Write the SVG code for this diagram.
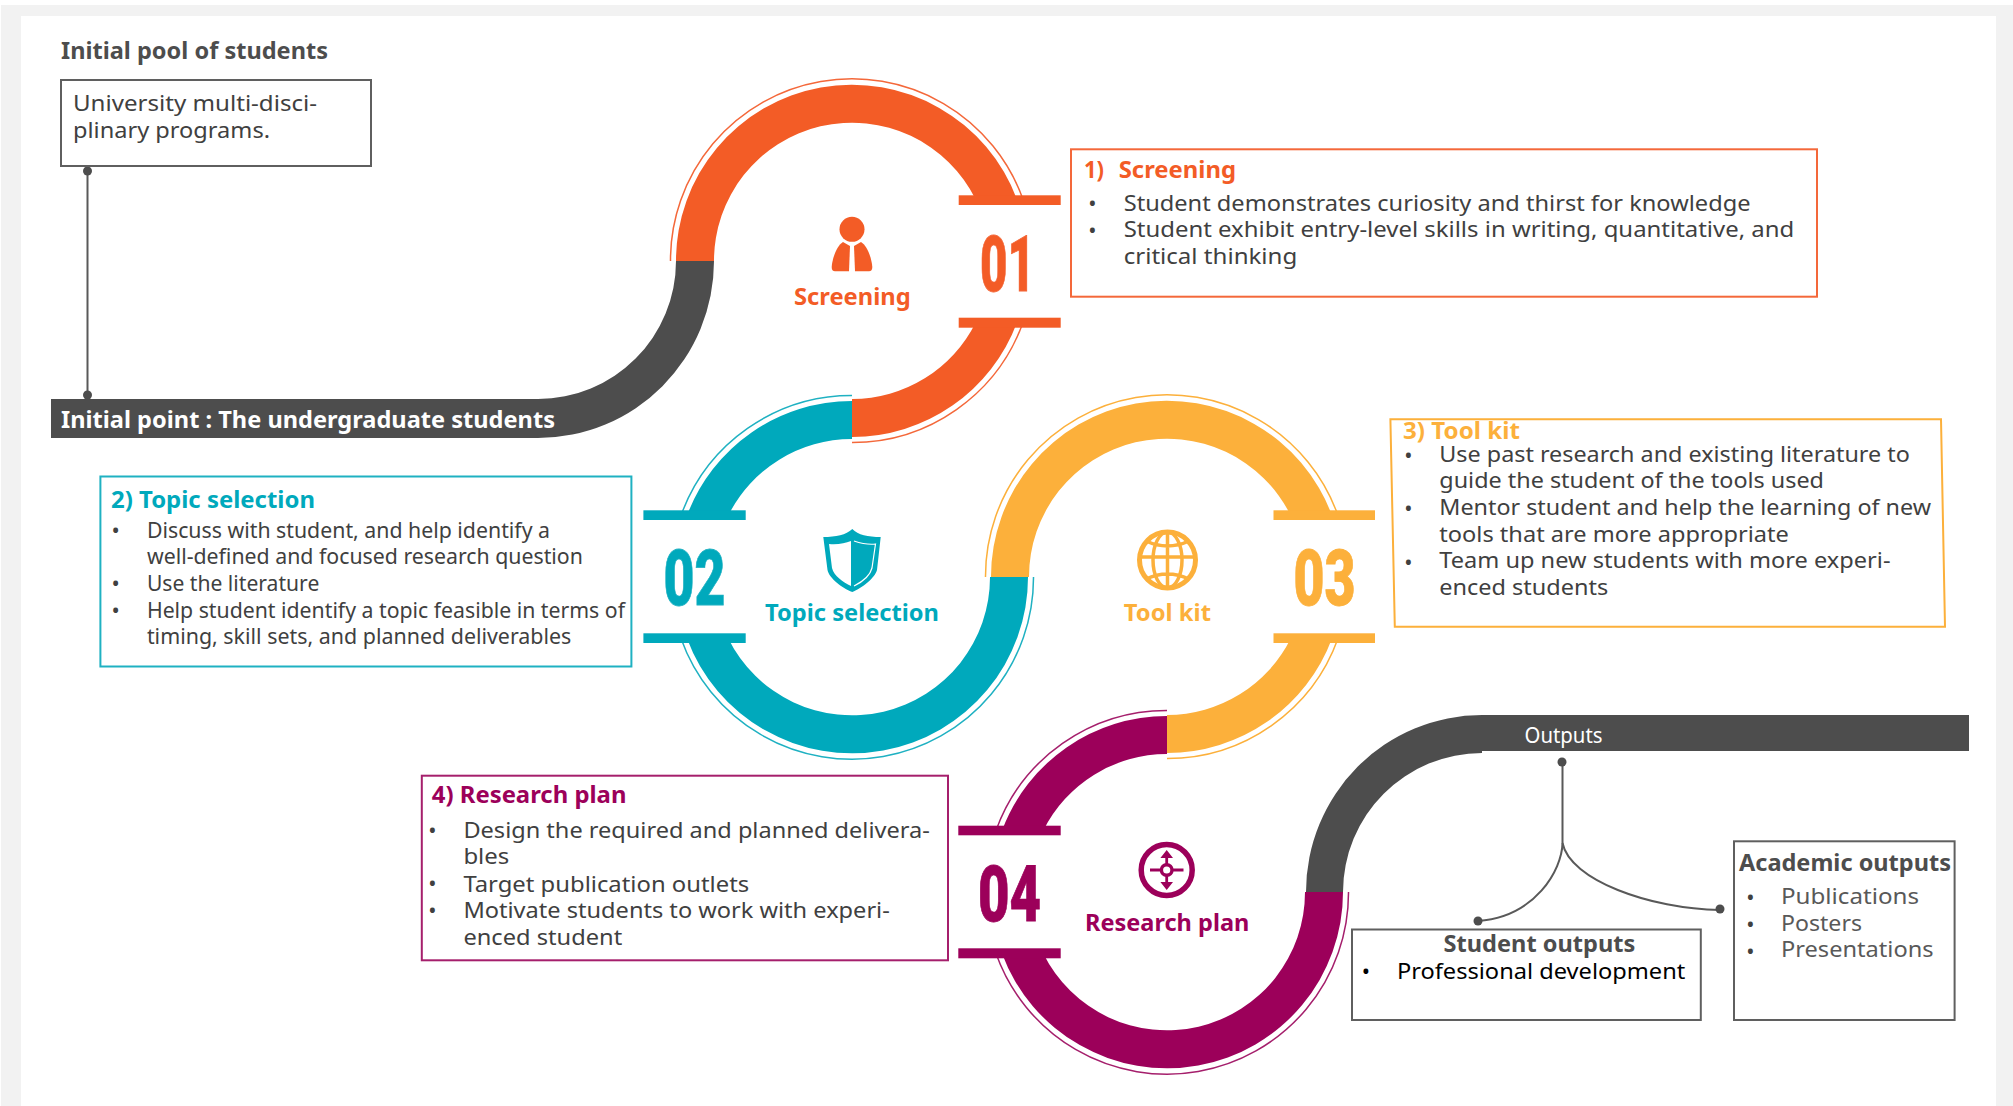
<svg xmlns="http://www.w3.org/2000/svg" width="2013" height="1106" viewBox="0 0 2013 1106">
<style>
text{font-family:"Noto Sans","Liberation Sans",sans-serif}
.b{font-size:22px;fill:#404040}
.h{font-size:23px;font-weight:700}
.k{font-size:24px;font-weight:700;fill:#4d4d4d}
.n{font-family:Roboto,"Liberation Sans",sans-serif;font-size:77px;font-weight:900;stroke-width:.8}
.l{font-size:24px;font-weight:700}
.d{font-size:22px;fill:#404040;text-anchor:middle}
.box{fill:#fff;stroke-width:2}
.gbox{fill:#fff;stroke:#5f5f5f;stroke-width:2}
.t{fill:none;stroke-width:1.5}
.o{fill:#f35c26}.os{stroke:#f4683a}
.c{fill:#00a9bc}.cs{stroke:#1fb1c2}
.y{fill:#fcb03b}.ys{stroke:#fcb03b}
.p{fill:#9c005a}.ps{stroke:#a51f6c}
.gl{fill:none;stroke:#595959;stroke-width:2}
.dot{fill:#4d4d4d}
</style>
<rect width="2013" height="1106" fill="#fff"/>
<path fill="#f2f2f2" d="M1 5H2013V1106H1ZM21 16V1106H1996V16Z" fill-rule="evenodd"/>

<g id="connectors">
<path fill="#4d4d4d" d="M676 261A138 138 0 0 1 538 399H51V438H538A176 177 0 0 0 714 261Z"/>
<path fill="#4d4d4d" d="M1343 892A139 139 0 0 1 1482 753V751H1969V715H1482A176 177 0 0 0 1306 892Z"/>
<path class="gl" d="M87.5 171V395"/>
<circle class="dot" cx="87.5" cy="171" r="4.5"/>
<circle class="dot" cx="87.5" cy="395" r="4.5"/>
<path class="gl" d="M1562.5 762V843C1562 870 1535 917 1478 921"/>
<path class="gl" d="M1562.5 843C1570 880 1650 909 1720 910"/>
<circle class="dot" cx="1562" cy="762" r="4.5"/>
<circle class="dot" cx="1478" cy="921" r="4.5"/>
<circle class="dot" cx="1720" cy="909" r="4.5"/>
</g>

<g id="node-initial-pool">
<text class="k" x="61" y="59" textLength="267" lengthAdjust="spacingAndGlyphs">Initial pool of students</text>
<rect class="gbox" x="61" y="80" width="310" height="86"/>
<text class="b" x="73" y="110.7" textLength="244" lengthAdjust="spacingAndGlyphs">University multi-disci-</text>
<text class="b" x="73" y="137.7" textLength="197" lengthAdjust="spacingAndGlyphs">plinary programs.</text>
</g>

<g id="node-initial-point">
<text class="k" style="fill:#fff" x="61" y="427.7" textLength="494" lengthAdjust="spacingAndGlyphs">Initial point : The undergraduate students</text>
</g>

<g id="node-screening">
<path class="o" d="M676 261A176 176 0 0 1 1017 199.5H975.7A138 138 0 0 0 714 261Z"/>
<path class="o" d="M1017 322.5A176 176 0 0 1 852 437V399A138 138 0 0 0 975.7 322.5Z"/>
<path class="t os" d="M670.5 261A181.5 181.5 0 0 1 1023 199.5"/>
<path class="t os" d="M1023 322.5A181.5 181.5 0 0 1 852 442.5"/>
<rect class="o" x="958.7" y="195.3" width="102" height="9.7"/>
<rect class="o" x="958.7" y="317.7" width="102" height="10"/>
<circle class="o" cx="852" cy="229.3" r="12.5"/>
<path class="o" d="M843 242C835 247 832 262 831.7 267Q831.7 271.3 835 271.3H849L850 246Z"/>
<path class="o" d="M861 242C869 247 872 262 872.3 267Q872.3 271.3 869 271.3H855L854 246Z"/>
<text class="l o" x="794" y="305" textLength="116.7" lengthAdjust="spacingAndGlyphs">Screening</text>
<text class="n o os" x="980" y="290.7" textLength="55" lengthAdjust="spacingAndGlyphs">01</text>
<rect class="box os" x="1071" y="149.3" width="746" height="147.4"/>
<text class="h o" x="1084" y="177.7" textLength="20" lengthAdjust="spacingAndGlyphs">1)</text>
<text class="h o" x="1118.7" y="177.7" textLength="117.3" lengthAdjust="spacingAndGlyphs">Screening</text>
<text class="d" x="1092.5" y="211">•</text>
<text class="d" x="1092.5" y="238">•</text>
<text class="b" x="1123.7" y="210.7" textLength="626.8" lengthAdjust="spacingAndGlyphs">Student demonstrates curiosity and thirst for knowledge</text>
<text class="b" x="1123.7" y="237.3" textLength="670.5" lengthAdjust="spacingAndGlyphs">Student exhibit entry-level skills in writing, quantitative, and</text>
<text class="b" x="1123.7" y="264" textLength="173.6" lengthAdjust="spacingAndGlyphs">critical thinking</text>
</g>

<g id="node-topic-selection">
<path class="c" d="M852 401A176 176 0 0 0 687 515.5H728.3A138 138 0 0 1 852 439Z"/>
<path class="c" d="M687 638.5A176 176 0 0 0 1028 577H990A138 138 0 0 1 728.3 638.5Z"/>
<path class="t cs" d="M852 395.5A181.5 181.5 0 0 0 681 515.5"/>
<path class="t cs" d="M681 638.5A181.5 181.5 0 0 0 1033.5 577"/>
<rect class="c" x="643.4" y="510.3" width="102.3" height="9.7"/>
<rect class="c" x="643.4" y="633.3" width="102.3" height="9.7"/>
<path class="c" d="M852.3 529C858 535 868 537 880.7 537L877 570C875 578 862 588 852.3 592C842 588 829 578 827.5 570L823.3 537C836 537 846 535 852.3 529Z"/>
<path fill="#fff" d="M851 541C845 543 838 545 829 544L832 568C834 576 843 582 851 586Z"/>
<path fill="none" stroke="#fff" stroke-width="1.2" d="M854 541C860 543 867 545 875.5 544L872 568C870 576 862 582 854 586"/>
<text class="l c" x="765" y="620.7" textLength="174" lengthAdjust="spacingAndGlyphs">Topic selection</text>
<text class="n c cs" x="663.5" y="605" textLength="62" lengthAdjust="spacingAndGlyphs">02</text>
<rect class="box cs" x="100.4" y="476.5" width="531" height="190"/>
<text class="h c" x="111" y="508" textLength="204" lengthAdjust="spacingAndGlyphs">2) Topic selection</text>
<text class="d" x="115.7" y="538">•</text>
<text class="d" x="115.7" y="591">•</text>
<text class="d" x="115.7" y="618">•</text>
<text class="b" x="146.9" y="537.7" textLength="403.1" lengthAdjust="spacingAndGlyphs">Discuss with student, and help identify a</text>
<text class="b" x="146.9" y="564.3" textLength="436" lengthAdjust="spacingAndGlyphs">well-defined and focused research question</text>
<text class="b" x="146.9" y="591" textLength="172.4" lengthAdjust="spacingAndGlyphs">Use the literature</text>
<text class="b" x="146.9" y="617.7" textLength="478.1" lengthAdjust="spacingAndGlyphs">Help student identify a topic feasible in terms of</text>
<text class="b" x="146.9" y="644.3" textLength="424.5" lengthAdjust="spacingAndGlyphs">timing, skill sets, and planned deliverables</text>
</g>

<g id="node-tool-kit">
<path class="y" d="M991 577A176 176 0 0 1 1332 515.5H1290.7A138 138 0 0 0 1029 577Z"/>
<path class="y" d="M1332 638.5A176 176 0 0 1 1167 753V715A138 138 0 0 0 1290.7 638.5Z"/>
<path class="t ys" d="M985.5 577A181.5 181.5 0 0 1 1338 515.5"/>
<path class="t ys" d="M1338 638.5A181.5 181.5 0 0 1 1167 758.5"/>
<rect class="y" x="1273.5" y="510.3" width="101.5" height="9.7"/>
<rect class="y" x="1273.5" y="633.3" width="101.5" height="9.7"/>
<g fill="none" stroke="#fcb03b" stroke-width="3.5">
<circle cx="1167.5" cy="560" r="28" stroke-width="5"/>
<ellipse cx="1167.5" cy="560" rx="14.5" ry="28"/>
<path d="M1167.5 532V588M1140 557H1195M1146 541Q1167.5 551 1189 541M1146 579Q1167.5 569 1189 579"/>
</g>
<text class="l y" x="1123.8" y="620.7" textLength="87.2" lengthAdjust="spacingAndGlyphs">Tool kit</text>
<text class="n y ys" x="1293.5" y="605" textLength="62" lengthAdjust="spacingAndGlyphs">03</text>
<path class="box ys" d="M1390.4 419.3H1941L1945 626.7H1394.8Z"/>
<text class="h y" x="1403" y="439.3" textLength="117" lengthAdjust="spacingAndGlyphs">3) Tool kit</text>
<text class="d" x="1408.4" y="463">•</text>
<text class="d" x="1408.4" y="516">•</text>
<text class="d" x="1408.4" y="569.7">•</text>
<text class="b" x="1439.3" y="461.7" textLength="470.5" lengthAdjust="spacingAndGlyphs">Use past research and existing literature to</text>
<text class="b" x="1439.3" y="488.3" textLength="384.7" lengthAdjust="spacingAndGlyphs">guide the student of the tools used</text>
<text class="b" x="1439.3" y="515" textLength="491.7" lengthAdjust="spacingAndGlyphs">Mentor student and help the learning of new</text>
<text class="b" x="1439.3" y="541.7" textLength="349.5" lengthAdjust="spacingAndGlyphs">tools that are more appropriate</text>
<text class="b" x="1439.3" y="568.3" textLength="451.2" lengthAdjust="spacingAndGlyphs">Team up new students with more experi-</text>
<text class="b" x="1439.3" y="595" textLength="169" lengthAdjust="spacingAndGlyphs">enced students</text>
</g>

<g id="node-research-plan">
<path class="p" d="M1167 716A176 176 0 0 0 1002 830.5H1043.3A138 138 0 0 1 1167 754Z"/>
<path class="p" d="M1002 953.5A176 176 0 0 0 1343 892H1305A138 138 0 0 1 1043.3 953.5Z"/>
<path class="t ps" d="M1167 710.5A181.5 181.5 0 0 0 996 830.5"/>
<path class="t ps" d="M996 953.5A181.5 181.5 0 0 0 1348.5 892"/>
<rect class="p" x="958.3" y="825.7" width="102.4" height="9.6"/>
<rect class="p" x="958.3" y="948.3" width="102.4" height="10"/>
<circle cx="1166.7" cy="870" r="25.5" fill="none" stroke="#9c005a" stroke-width="5.5"/>
<path fill="none" stroke="#9c005a" stroke-width="2.8" d="M1150 870H1183.5M1166.7 856V884"/>
<path class="p" d="M1166.7 850L1173 858H1160.4ZM1166.7 890L1173 882H1160.4Z"/>
<circle cx="1166.7" cy="870" r="5.3" fill="#fff" stroke="#9c005a" stroke-width="3.4"/>
<text class="l p" x="1085" y="930.7" textLength="164.3" lengthAdjust="spacingAndGlyphs">Research plan</text>
<text class="n p" stroke="#9c005a" x="978" y="920.7" textLength="63" lengthAdjust="spacingAndGlyphs">04</text>
<rect class="box ps" x="421.8" y="775.7" width="526.2" height="184.6"/>
<text class="h p" x="431.8" y="802.7" textLength="194.6" lengthAdjust="spacingAndGlyphs">4) Research plan</text>
<text class="d" x="432.5" y="838">•</text>
<text class="d" x="432.5" y="891.3">•</text>
<text class="d" x="432.5" y="918">•</text>
<text class="b" x="463.4" y="837.7" textLength="466.4" lengthAdjust="spacingAndGlyphs">Design the required and planned delivera-</text>
<text class="b" x="463.4" y="864.3" textLength="45.9" lengthAdjust="spacingAndGlyphs">bles</text>
<text class="b" x="463.4" y="891.7" textLength="285.8" lengthAdjust="spacingAndGlyphs">Target publication outlets</text>
<text class="b" x="463.4" y="918.3" textLength="426.4" lengthAdjust="spacingAndGlyphs">Motivate students to work with experi-</text>
<text class="b" x="463.4" y="945" textLength="158.8" lengthAdjust="spacingAndGlyphs">enced student</text>
</g>

<g id="node-outputs">
<text style="font-size:21px;fill:#fff" x="1524.5" y="742.7" textLength="78" lengthAdjust="spacingAndGlyphs">Outputs</text>
</g>

<g id="node-student-outputs">
<rect class="gbox" x="1352" y="929.5" width="348.8" height="90.5"/>
<text class="k" x="1443.6" y="951.7" textLength="191.7" lengthAdjust="spacingAndGlyphs">Student outputs</text>
<text class="d" style="fill:#000" x="1366" y="979.3">•</text>
<text class="b" style="fill:#000" x="1396.9" y="979" textLength="288.4" lengthAdjust="spacingAndGlyphs">Professional development</text>
</g>

<g id="node-academic-outputs">
<rect class="gbox" x="1734" y="841.3" width="220.6" height="178.7"/>
<text class="k" x="1739" y="871" textLength="212" lengthAdjust="spacingAndGlyphs">Academic outputs</text>
<text class="d" x="1750.3" y="905">•</text>
<text class="d" x="1750.3" y="932">•</text>
<text class="d" x="1750.3" y="958.7">•</text>
<text class="b" style="fill:#595959" x="1781" y="904" textLength="138" lengthAdjust="spacingAndGlyphs">Publications</text>
<text class="b" style="fill:#595959" x="1781" y="930.7" textLength="81" lengthAdjust="spacingAndGlyphs">Posters</text>
<text class="b" style="fill:#595959" x="1781" y="957.3" textLength="152.6" lengthAdjust="spacingAndGlyphs">Presentations</text>
</g>
</svg>
